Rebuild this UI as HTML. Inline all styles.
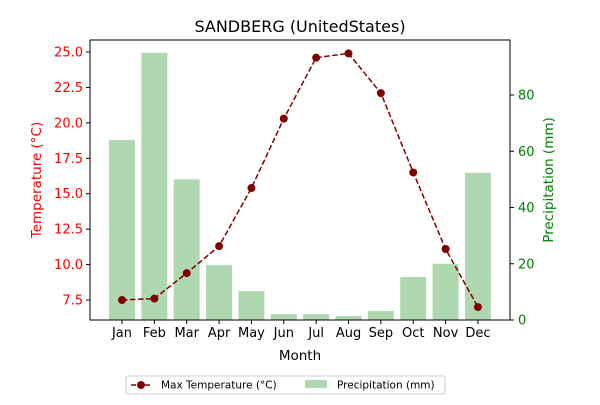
<!DOCTYPE html>
<html><head><meta charset="utf-8"><style>
body{margin:0;background:#fff}
svg{font-family:"DejaVu Sans","Liberation Sans",sans-serif}
</style></head><body>
<svg id="chart" width="600" height="400" xmlns="http://www.w3.org/2000/svg">
<text x="300" y="32" text-anchor="middle" font-size="16">SANDBERG (UnitedStates)</text>
<g id="bars"></g>
<g id="line"></g>
<rect x="90" y="40" width="420" height="280" fill="none" stroke="#000" stroke-width="1"/>
<g id="axes"></g>
<text x="300" y="360" text-anchor="middle" font-size="13.5">Month</text>
<text transform="translate(41,180) rotate(-90)" text-anchor="middle" font-size="13.5" fill="red">Temperature (°C)</text>
<text transform="translate(553,180) rotate(-90)" text-anchor="middle" font-size="13.5" fill="green">Precipitation (mm)</text>
<g>
<rect x="126" y="376" width="319" height="18" fill="#fff" stroke="#ccc" rx="2"/>
<g>
<line x1="131" y1="385" x2="151" y2="385" stroke="#800000" stroke-width="1.5" stroke-dasharray="5,2"/>
<circle cx="141" cy="385" r="4" fill="#800000"/>
<text x="161" y="388.5" font-size="10.5">Max Temperature (°C)</text></g>
<g>
<rect x="305" y="380" width="22" height="8" fill="#b0d8b0"/>
<text x="337" y="388.5" font-size="10.5">Precipitation (mm)</text></g>
</g>
</svg>
<script>
const months=["Jan","Feb","Mar","Apr","May","Jun","Jul","Aug","Sep","Oct","Nov","Dec"];
const temps=[7.5,7.6,9.4,11.3,15.4,20.3,24.6,24.9,22.1,16.5,11.1,7.0];
const precip=[64,95,50,19.6,10.3,2.1,2.1,1.4,3.2,15.3,20,52.3];
const tempTicks=[7.5,10.0,12.5,15.0,17.5,20.0,22.5,25.0];
const precipTicks=[0,20,40,60,80];
const NS="http://www.w3.org/2000/svg";
const xS=i=>122+i*32.36;
const yT=v=>300-(v-7.5)*14.171;
const yP=v=>320-v*2.8125;
function mk(t,a,p){const e=document.createElementNS(NS,t);for(const k in a)e.setAttribute(k,a[k]);p.appendChild(e);return e;}
const bars=document.getElementById('bars'),line=document.getElementById('line'),axes=document.getElementById('axes');
precip.forEach((v,i)=>{const r=mk('rect',{x:xS(i)-13,y:yP(v),width:26,height:320-yP(v),fill:'#b0d8b0'},bars);

});
const pl=mk('polyline',{points:temps.map((v,i)=>xS(i)+','+yT(v)).join(' '),fill:'none',stroke:'#800000','stroke-width':1.5,'stroke-dasharray':'5.5,2.5'},line);


temps.forEach((v,i)=>{const c=mk('circle',{cx:xS(i),cy:yT(v),r:4,fill:'#800000'},line);

});
months.forEach((m,i)=>{mk('line',{x1:xS(i),y1:320,x2:xS(i),y2:324,stroke:'#000'},axes);
const t=mk('text',{x:xS(i),y:337,'text-anchor':'middle','font-size':13},axes);t.textContent=m;

});
tempTicks.forEach(v=>{mk('line',{x1:86,y1:yT(v),x2:90,y2:yT(v),stroke:'#000'},axes);
const t=mk('text',{x:83,y:yT(v)+4.5,'text-anchor':'end','font-size':13,fill:'red'},axes);t.textContent=v.toFixed(1);

});
precipTicks.forEach(v=>{mk('line',{x1:510,y1:yP(v),x2:514,y2:yP(v),stroke:'#000'},axes);
const t=mk('text',{x:518,y:yP(v)+4.5,'font-size':13,fill:'green'},axes);t.textContent=v;

});
</script>
</body></html>
